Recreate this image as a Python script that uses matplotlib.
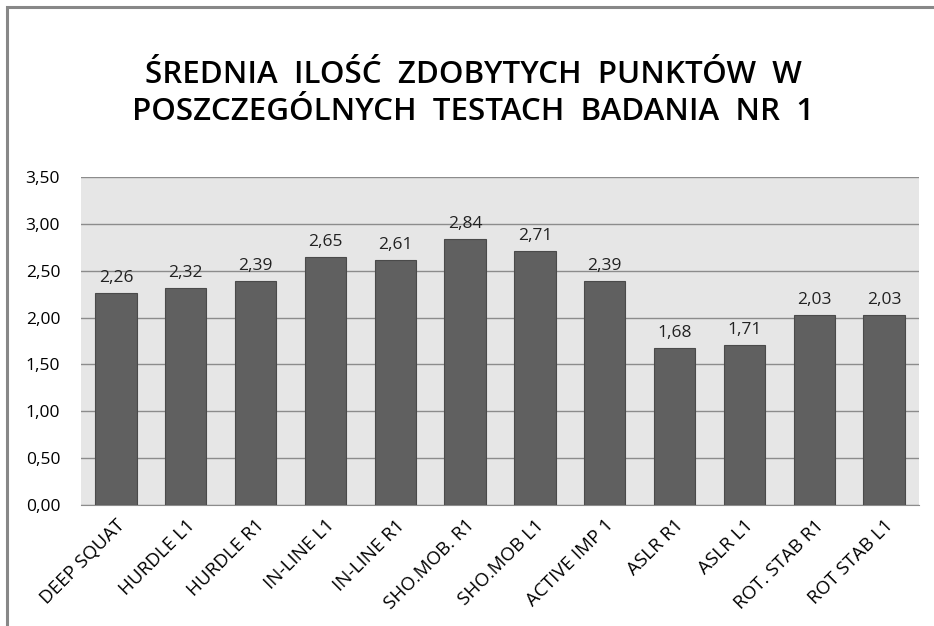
import matplotlib
matplotlib.use("Agg")
import matplotlib.pyplot as plt
from matplotlib.patches import Rectangle
import numpy as np

# data
categories = ["DEEP SQUAT", "HURDLE L1", "HURDLE R1", "IN-LINE L1", "IN-LINE R1",
              "SHO.MOB. R1", "SHO.MOB L1", "ACTIVE IMP 1", "ASLR R1", "ASLR L1",
              "ROT. STAB R1", "ROT STAB L1"]
values = [2.26, 2.32, 2.39, 2.65, 2.61, 2.84, 2.71, 2.39, 1.68, 1.71, 2.03, 2.03]
yticks = [0.0, 0.5, 1.0, 1.5, 2.0, 2.5, 3.0, 3.5]

plt.rcParams['font.family'] = ['Open Sans', 'DejaVu Sans']

fig = plt.figure(figsize=(9.34, 6.26), dpi=100)
W, H = 934, 626
ax = fig.add_axes([81 / W, 121 / H, 838 / W, 328 / H])
ax.set_facecolor('#e6e6e6')

x = np.arange(len(categories))
bars = ax.bar(x, values, width=0.59, color='#606060', edgecolor='#4a4a4a',
              linewidth=0.8, zorder=3)
for xi, v in zip(x, values):
    ax.annotate(f"{v:.2f}".replace('.', ','), (xi, v), xytext=(0, 5),
                textcoords='offset points', ha='center', va='bottom',
                fontsize=12.5, color='#222222', zorder=4)

ax.set_xlim(-0.5, len(categories) - 0.5)
ax.set_ylim(0, 3.5)
ax.set_yticks(yticks)
ax.set_yticklabels([f"{t:.2f}".replace('.', ',') for t in yticks], fontsize=12.5)
ax.yaxis.grid(True, color='#8c8c8c', linewidth=1.0, zorder=0)
ax.set_axisbelow(True)
ax.tick_params(axis='y', length=0, pad=15)
ax.tick_params(axis='x', length=0, pad=8)
ax.set_xticks(x)
ax.set_xticklabels(categories, rotation=45, ha='right', rotation_mode='anchor',
                   fontsize=13.5)
for s in ['left', 'right', 'top']:
    ax.spines[s].set_visible(False)
ax.spines['bottom'].set_color('#8c8c8c')

fig.text(0.507, 1 - 75 / H, "ŚREDNIA  ILOŚĆ  ZDOBYTYCH  PUNKTÓW  W",
         ha='center', va='center', fontsize=22.5, fontweight='semibold')
fig.text(0.507, 1 - 112 / H, "POSZCZEGÓLNYCH  TESTACH  BADANIA  NR  1",
         ha='center', va='center', fontsize=22.5, fontweight='semibold')

# outer frame (only left and top visible)
fig.patches.append(Rectangle((7 / W, -0.1), 1.2, 1.1 - 7 / H, transform=fig.transFigure,
                             fill=False, edgecolor='#888888', linewidth=2.2))

fig.savefig("out.png", dpi=100)
